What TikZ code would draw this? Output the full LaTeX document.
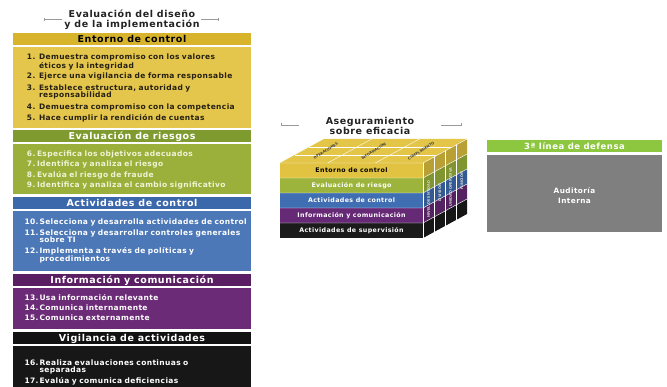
\documentclass[tikz,border=0pt]{standalone}
\usepackage{fontspec}
\setmainfont{DejaVu Sans}
\newfontfamily\widefont[LetterSpace=6]{DejaVu Sans}
\newfontfamily\bodyfont[LetterSpace=5]{DejaVu Sans}
\usetikzlibrary{positioning, calc, arrows.meta}

\definecolor{entHead}{HTML}{D8B32C}
\definecolor{entBody}{HTML}{E4C64D}
\definecolor{entTxt}{HTML}{262010}
\definecolor{rieHead}{HTML}{7F9A2E}
\definecolor{rieBody}{HTML}{9BB03B}
\definecolor{rieTxt}{HTML}{F0F3D6}
\definecolor{actHead}{HTML}{3B67AB}
\definecolor{actBody}{HTML}{4C78B8}
\definecolor{infHead}{HTML}{5A1F62}
\definecolor{infBody}{HTML}{6C2B77}
\definecolor{vigHead}{HTML}{121212}
\definecolor{vigBody}{HTML}{171717}
\definecolor{cubeTop}{HTML}{E3C547}
\definecolor{cubeYel}{HTML}{E2C341}
\definecolor{cubeGrn}{HTML}{9CB43B}
\definecolor{cubeBlu}{HTML}{3F6EB3}
\definecolor{cubePur}{HTML}{662976}
\definecolor{cubeBlk}{HTML}{1B1B1B}
\definecolor{linGreen}{HTML}{8DC63F}
\definecolor{audGray}{HTML}{7F7F7F}
\definecolor{titleGray}{HTML}{222222}
\definecolor{ruleGray}{HTML}{9A9A9A}

\tikzset{
every node/.style = {inner sep = 0pt, outer sep = 0pt},
sechead/.style = {rectangle, anchor = north west, minimum width = 238pt,
   minimum height = 12pt, text height = 7.5pt, text depth = .6pt,
   font = \widefont\bfseries\fontsize{9.5}{10}\selectfont},
secbody/.style = {rectangle, anchor = north west, minimum width = 238pt},
itemnum/.style = {anchor = base west,
   font = \bodyfont\bfseries\fontsize{7.5}{7.5}\selectfont},
itemtxt/.style = {itemnum, text width = 225pt, align = left},
headline/.style = {align = center, text = titleGray,
   font = \widefont\bfseries\fontsize{9.5}{9.5}\selectfont},
dashrule/.style = {draw = ruleGray, line width = .5pt, {Bar[width = 3pt]}-},
cuberow/.style = {font = \widefont\bfseries\fontsize{6.3}{6.3}\selectfont},
cubelabel/.style = {align = center, font = \bfseries\fontsize{3.5}{3.8}\selectfont},
gridline/.style = {draw = white, line width = .4pt}
}

\begin{document}
\begin{tikzpicture}[x = 1pt, y = -1pt]
\useasboundingbox (0,0) rectangle (667,387);

%% Left column: titles
\node [headline] (titleLeft) at (132,19.5) {Evaluación del diseño\\y de la implementación};
\draw [dashrule] ($(titleLeft.west)+(-20,0)$) -- ($(titleLeft.west)+(-2,0)$);
\draw [dashrule] ($(titleLeft.east)+(19,0)$) -- ($(titleLeft.east)+(1,0)$);

%% Section headers and bodies
\foreach \nm/\y/\hc/\tc/\txt in {Entorno/33/entHead/black/Entorno de control,
   Riesgos/130.5/rieHead/white/Evaluación de riesgos,
   Control/197.5/actHead/white/Actividades de control,
   Info/274/infHead/white/Información y comunicación,
   Vigilancia/332/vigHead/white/Vigilancia de actividades}{
   \node [sechead, fill = \hc, text = \tc] (h\nm) at (13,\y) {\txt};
}
\foreach \nm/\y/\h/\bc in {Entorno/47/81.5/entBody, Riesgos/144.5/50/rieBody,
   Control/211/60.5/actBody, Info/288/41.5/infBody, Vigilancia/346/41/vigBody}{
   \node [secbody, fill = \bc, minimum height = \h pt] (b\nm) at (13,\y) {};
}

%% Principles
\foreach \n/\xn/\xt/\y/\col/\txt in {
   1/27/39/59.7/entTxt/{Demuestra compromiso con los valores\\éticos y la integridad},
   2/27/39/78.7/entTxt/{Ejerce una vigilancia de forma responsable},
   3/27/39/90.2/entTxt/{Establece estructura, autoridad y\\responsabilidad},
   4/27/39/109.2/entTxt/{Demuestra compromiso con la competencia},
   5/27/39/120.7/entTxt/{Hace cumplir la rendición de cuentas},
   6/27/37/156.7/rieTxt/{Especifica los objetivos adecuados},
   7/27/37/167/rieTxt/{Identifica y analiza el riesgo},
   8/27/37/177.4/rieTxt/{Evalúa el riesgo de fraude},
   9/27/37/188/rieTxt/{Identifica y analiza el cambio significativo},
   10/24.5/39.5/225/white/{Selecciona y desarrolla actividades de control},
   11/24.5/39.5/235.4/white/{Selecciona y desarrollar controles generales\\sobre TI},
   12/24.5/39.5/253.7/white/{Implementa a través de políticas y\\procedimientos},
   13/24.5/39.5/300.4/white/{Usa información relevante},
   14/24.5/39.5/310.7/white/{Comunica internamente},
   15/24.5/39.5/321/white/{Comunica externamente},
   16/24.5/39.5/365.4/white/{Realiza evaluaciones continuas o\\separadas},
   17/24.5/39.5/383.4/white/{Evalúa y comunica deficiencias}}{
   \node [itemnum, text = \col] (num\n) at (\xn,\y) {\n.};
   \node [itemtxt, text = \col] (itm\n) at (\xt,\y) {\txt};
}

%% Cube: title
\node [headline] (titleCube) at (370,126) {Aseguramiento\\sobre eficacia};
\draw [dashrule] ($(titleCube.west)+(-45,-1)$) -- ($(titleCube.west)+(-27,-1)$);
\draw [dashrule] ($(titleCube.east)+(47,-1)$) -- ($(titleCube.east)+(27,-1)$);

%% Cube: top face
\fill [cubeTop] (280,163) -- (423,163) -- (467,139) -- (324,139) -- cycle;
\foreach \f in {1,2}{
   \draw [gridline] (280+143*\f/3,163) -- (324+143*\f/3,139);
   \draw [gridline] (280+44*\f/3,163-24*\f/3) -- (423+44*\f/3,163-24*\f/3);
}
\foreach \k/\txt in {0/OPERACIONES, 1/INFORMACIÓN, 2/CUMPLIMIENTO}{
   \node [cubelabel, rotate = 32, text = black!75] (obj\k) at (280+143*\k/3+23.8+22,151) {\txt};
}

%% Cube: front rows and side face
\foreach \i/\col/\tc/\txt in {0/cubeYel/black/Entorno de control,
   1/cubeGrn/white/Evaluación de riesgo,
   2/cubeBlu/white/Actividades de control,
   3/cubePur/white/Información y comunicación,
   4/cubeBlk/white/Actividades de supervisión}{
   \fill [\col] (280,163+15*\i) rectangle (423,178+15*\i);
   \fill [\col!82!black] (423,163+15*\i) -- (467,139+15*\i) -- (467,154+15*\i)
      -- (423,178+15*\i) -- cycle;
   \draw [gridline] (280,163+15*\i) -- (423,163+15*\i) -- (467,139+15*\i);
   \node [cuberow, text = \tc] (row\i) at (351.5,170.5+15*\i) {\txt};
}
\foreach \g in {1,2,3}{
   \draw [gridline] (423+11*\g,163-6*\g) -- (423+11*\g,238-6*\g);
}
\draw [gridline] (423,163) -- (423,238);
\foreach \j/\txt in {0/NIVEL DE ENTIDAD, 1/DIVISIÓN, 2/UNIDAD OPERATIVA, 3/FUNCIÓN}{
   \node [cubelabel, rotate = 90, text = white!85!black] (lev\j) at (428.5+11*\j,199-6*\j) {\txt};
}

%% Third line of defence
\node [sechead, minimum width = 175pt, fill = linGreen, text = white,
   font = \widefont\bfseries\fontsize{8.5}{9}\selectfont] (hLinea) at (487,140.5) {3ª línea de defensa};
\node [secbody, minimum width = 175pt, minimum height = 77pt, fill = audGray] (bAudit) at (487,155) {};
\node [headline, text = white, font = \widefont\bfseries\fontsize{7.3}{10.5}\selectfont]
   (audit) at ($(bAudit.center)+(0,2)$) {Auditoría\\Interna};

\end{tikzpicture}
\end{document}
